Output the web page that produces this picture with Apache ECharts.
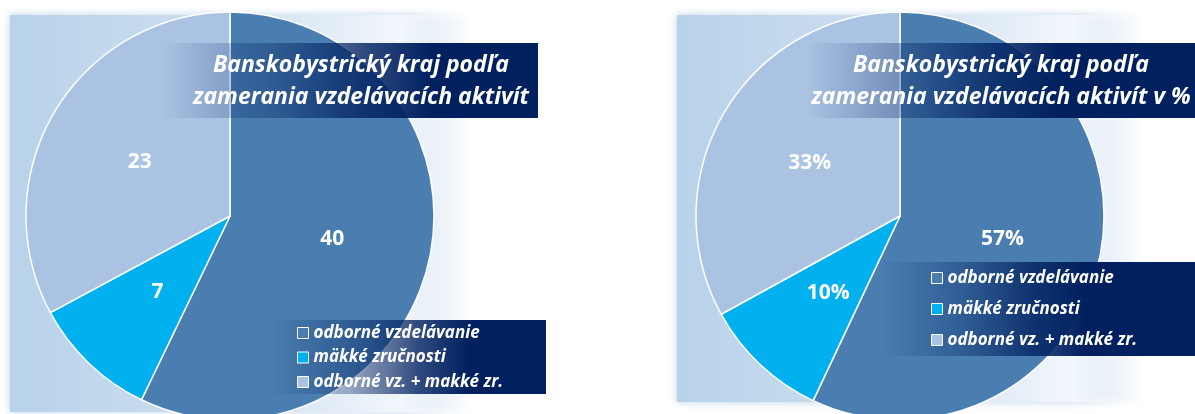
<!DOCTYPE html>
<html>
<head>
<meta charset="utf-8">
<script src="https://cdn.jsdelivr.net/npm/echarts@6/dist/echarts.min.js"></script>
<style>
  html, body { margin: 0; padding: 0; background: #fff; }
  #chart { width: 1195px; height: 414px; }
</style>
</head>
<body>
<div id="chart"></div>
<script>
// categories (legend order)
const categories = ['odborné vzdelávanie', 'mäkké zručnosti', 'odborné vz. + makké zr.']
// left chart: counts
const counts = [40, 7, 23]
// right chart: shares in %
const percents = [57, 10, 33]
const titleLeft = ['Banskobystrický kraj podľa', 'zamerania vzdelávacích aktivít']
const titleRight = ['Banskobystrický kraj podľa', 'zamerania vzdelávacích aktivít v %']

const colors = ['#4a7eb0', '#00b0ef', '#abc3e3']
const navy = '#002060'
const fontFam = '"Open Sans", Lato, sans-serif'

const chart = echarts.init(document.getElementById('chart'))

function panel(x, y, w, h) {
  return {
    type: 'rect',
    z: 0,
    shape: { x: x, y: y, width: w, height: h },
    style: {
      fill: new echarts.graphic.LinearGradient(0, 0, 1, 0, [
        { offset: 0, color: '#b8d2ea' },
        { offset: 0.5, color: '#cfe0f0' },
        { offset: 0.85, color: '#f2f7fb' },
        { offset: 1, color: 'rgba(255,255,255,0)' }
      ]),
      shadowBlur: 8,
      shadowColor: 'rgba(160,190,222,0.7)'
    }
  }
}

function navyBox(x, y, w, h, solidAt) {
  return {
    type: 'rect',
    z: 3,
    shape: { x: x, y: y, width: w, height: h },
    style: {
      fill: new echarts.graphic.LinearGradient(0, 0, 1, 0, [
        { offset: 0, color: 'rgba(0,32,96,0)' },
        { offset: solidAt * 0.4, color: 'rgba(0,32,96,0.35)' },
        { offset: solidAt * 0.75, color: 'rgba(0,32,96,0.8)' },
        { offset: solidAt, color: navy },
        { offset: 1, color: navy }
      ])
    }
  }
}

function titleText(lines, cx) {
  return lines.map((t, i) => ({
    type: 'text',
    z: 5,
    x: cx,
    y: 65 + i * 32,
    style: {
      text: t,
      fill: '#fff',
      font: 'italic bold 23px ' + fontFam,
      textAlign: 'center',
      textVerticalAlign: 'middle'
    }
  }))
}

function pieSeries(values, cx, fmt) {
  return {
    type: 'pie',
    z: 2,
    center: [cx, 216],
    radius: [0, 204],
    startAngle: 90,
    clockwise: true,
    silent: true,
    itemStyle: { borderColor: '#fff', borderWidth: 1.5 },
    label: {
      show: true,
      position: 'inside',
      formatter: fmt,
      color: '#fff',
      fontSize: 21,
      fontWeight: 'bold',
      fontFamily: fontFam
    },
    labelLine: { show: false },
    data: categories.map((c, i) => ({ name: c, value: values[i], itemStyle: { color: colors[i] } }))
  }
}

const legendText = {
  color: '#fff',
  fontStyle: 'italic',
  fontWeight: 'bold',
  fontSize: 17,
  lineHeight: 20,
  fontFamily: fontFam
}

chart.setOption({
  animation: false,
  graphic: [
    panel(10, 15, 460, 397),
    panel(677, 15, 465, 387),
    navyBox(160, 43, 378, 75, 0.72),
    navyBox(805, 43, 390, 75, 0.65),
    navyBox(268, 320, 278, 74, 0.72),
    navyBox(880, 262, 315, 94, 0.65),
    ...titleText(titleLeft, 361),
    ...titleText(titleRight, 1001)
  ],
  legend: [
    {
      z: 10,
      orient: 'vertical',
      left: 297,
      top: 323,
      itemWidth: 11,
      itemHeight: 11,
      itemGap: 4.5,
      icon: 'rect',
      selectedMode: false,
      padding: 0,
      itemStyle: { borderColor: '#fff', borderWidth: 1 },
      textStyle: legendText,
      data: categories
    },
    {
      z: 10,
      orient: 'vertical',
      left: 931,
      top: 268,
      itemWidth: 11,
      itemHeight: 11,
      itemGap: 11,
      icon: 'rect',
      selectedMode: false,
      padding: 0,
      itemStyle: { borderColor: '#fff', borderWidth: 1 },
      textStyle: legendText,
      data: categories
    }
  ],
  series: [
    pieSeries(counts, 230, '{c}'),
    pieSeries(percents, 900, '{c}%')
  ]
})
</script>
</body>
</html>
